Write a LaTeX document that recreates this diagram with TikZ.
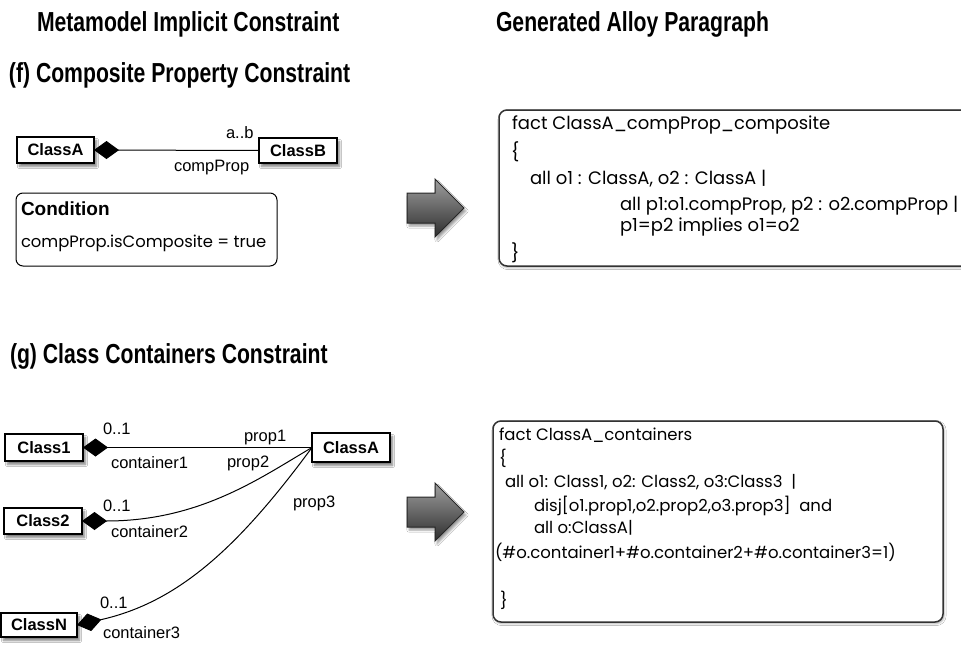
\documentclass[tikz,border=0pt]{standalone}
\usepackage{fontspec}
\setmainfont{Liberation Sans}
\newfontfamily\headfont[FakeStretch=0.77]{Liberation Sans}
\newfontfamily\codefont{Poppins}
\usetikzlibrary{arrows.meta,shadows.blur}

\tikzset{
  every node/.style={inner sep=0pt, outer sep=0pt},
  heading/.style={anchor=base west, font=\headfont\fontsize{27.5}{32}\selectfont\bfseries},
  classbox/.style={draw=black, line width=1.3pt, fill=white,
    font=\fontsize{16.5}{20}\selectfont\bfseries,
    blur shadow={shadow xshift=2.5pt, shadow yshift=-3.5pt,
      shadow blur steps=6, shadow opacity=50}},
  role/.style={anchor=west, font=\fontsize{16.5}{20}\selectfont},
  comp/.style={line width=1pt,
    arrows={Diamond[length=25pt,width=18pt,fill=black,line join=miter]-}},
  codebox/.style={draw=black!80, line width=1.5pt, rounded corners=8pt,
    fill=white, anchor=north west,
    blur shadow={shadow xshift=1pt, shadow yshift=-1.5pt,
      shadow blur steps=3, shadow opacity=35}},
  fcode/.style={anchor=west, font=\codefont\fontsize{18}{22}\selectfont},
  gcode/.style={anchor=west, font=\codefont\fontsize{16.5}{20}\selectfont},
  condbox/.style={draw=black, line width=1pt, rounded corners=7pt,
    anchor=north west, fill=white},
  bigarrow/.style={top color=black!38, middle color=black!58,
    bottom color=black!82, draw=black!85, line width=1pt,
    blur shadow={shadow xshift=2pt, shadow yshift=-3pt,
      shadow blur steps=5, shadow opacity=40}},
}

\begin{document}
\begin{tikzpicture}[x=1pt, y=-1pt]
\useasboundingbox[fill=white] (0,0) rectangle (961,645);

% column headings
\node[heading] (h1) at (37,31) {Metamodel Implicit Constraint};
\node[heading] (h2) at (496,31) {Generated Alloy Paragraph};

% ---------------- (f) composite property ----------------
\node[heading] (tf) at (9,82) {(f) Composite Property Constraint};

\node[classbox, minimum width=77pt, minimum height=26pt] (fA) at (55.5,150) {ClassA};
\node[classbox, minimum width=78pt, minimum height=25pt] (fB) at (298,150.5) {ClassB};
\draw[comp] (fA.east) -- (fB.west);
\node[role] (fmult) at (226,133) {a..b};
\node[role] (frole) at (174,168) {compProp};

\node[condbox, minimum width=261pt, minimum height=73pt] (cond) at (16,193) {};
\node[anchor=west, font=\fontsize{19}{23}\selectfont\bfseries] (condt) at (21,209) {Condition};
\node[anchor=west, font=\codefont\fontsize{16.4}{20}\selectfont] (condx) at (21,243) {compProp.isComposite = true};

\shade[bigarrow] (407,193) -- (435,193) -- (435,179) -- (464,208)
  -- (435,237) -- (435,223) -- (407,223) -- cycle;

\node[codebox, minimum width=480pt, minimum height=156pt] (fbox) at (499,110) {};
\node[fcode] (f1) at (512,125) {fact ClassA\_compProp\_composite};
\node[fcode] (f2) at (511,152) {\{};
\node[fcode] (f3) at (530,179) {all o1 : ClassA, o2 : ClassA |};
\node[fcode] (f4) at (620,206) {all p1:o1.compProp, p2 : o2.compProp |};
\node[fcode] (f5) at (620,227) {p1=p2 implies o1=o2};
\node[fcode] (f6) at (511,253) {\}};

% ---------------- (g) class containers ----------------
\node[heading] (tg) at (10,363) {(g) Class Containers Constraint};

\node[classbox, minimum width=78pt, minimum height=27pt] (c1) at (44,447.5) {Class1};
\node[classbox, minimum width=78pt, minimum height=26pt] (c2) at (43,521) {Class2};
\node[classbox, minimum width=76pt, minimum height=24pt] (cN) at (39,625) {ClassN};
\node[classbox, minimum width=78pt, minimum height=29pt] (gA) at (351,447.5) {ClassA};

\draw[comp] (c1.east) -- (gA.west);
\draw[comp] (c2.east) .. controls (200,521) and (260,478) .. (gA.west);
\draw[comp] (cN.east) .. controls (180,602) and (240,545) .. (gA.west);

\node[role] (m1) at (103,429) {0..1};
\node[role] (r1) at (111,463) {container1};
\node[role] (p1) at (244,438) {prop1};
\node[role] (p2) at (227,463) {prop2};
\node[role] (m2) at (103,506) {0..1};
\node[role] (r2) at (111,532) {container2};
\node[role] (p3) at (293,503) {prop3};
\node[role] (m3) at (100,603) {0..1};
\node[role] (r3) at (103,633) {container3};

\shade[bigarrow] (407,497) -- (435,497) -- (435,483) -- (464,512)
  -- (435,541) -- (435,527) -- (407,527) -- cycle;

\node[codebox, minimum width=450pt, minimum height=201pt] (gbox) at (493,421) {};
\node[gcode] (g1) at (499,435) {fact ClassA\_containers};
\node[gcode] (g2) at (499,458) {\{};
\node[gcode] (g3) at (505,482) {all o1: Class1, o2: Class2, o3:Class3 \ |};
\node[gcode] (g4) at (534,506) {disj[o1.prop1,o2.prop2,o3.prop3]\ \ and};
\node[gcode] (g5) at (534,528) {all o:ClassA|};
\node[gcode] (g6) at (495,552) {(\#o.container1+\#o.container2+\#o.container3=1)};
\node[gcode] (g7) at (500,600) {\}};
\end{tikzpicture}
\end{document}
